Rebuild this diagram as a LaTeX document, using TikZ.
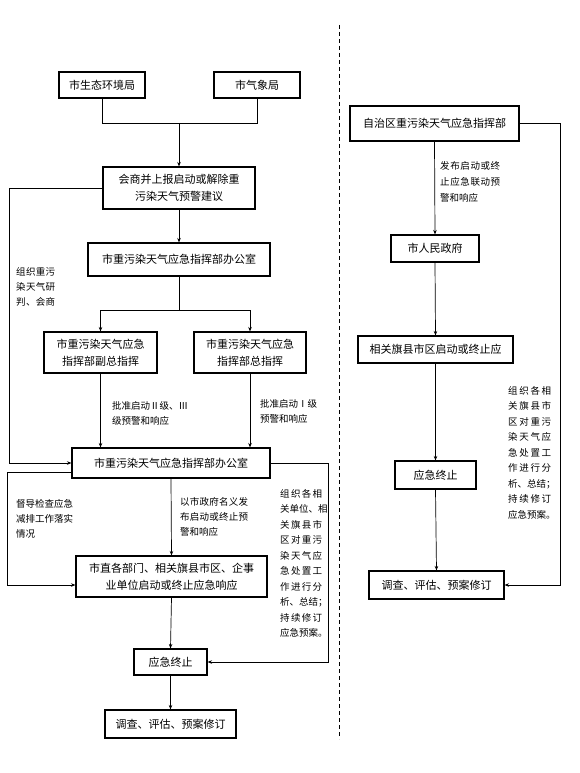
\documentclass[tikz,border=0pt]{standalone}
\usepackage{fontspec}
\setmainfont{Noto Sans CJK SC}
\usetikzlibrary{arrows.meta}

% spread the characters of one line over a fixed width
\def\sprfirst#1{#1\sprnext}
\def\sprnext#1{\ifx#1\relax\else\hfil#1\expandafter\sprnext\fi}
\newcommand{\spr}[2][42pt]{\makebox[#1][s]{\sprfirst#2\relax}}

\begin{document}
\begin{tikzpicture}[x=1pt, y=-1pt,
  box/.style={rectangle, draw, line width=1.1pt, inner sep=0pt, align=center,
    minimum width=#1, font=\fontsize{11}{17}\selectfont},
  lbl/.style={inner sep=0pt, align=left, anchor=north west,
    font=\fontsize{9.5}{#1}\selectfont},
  lbl/.default=15pt,
  arr/.style={-{Stealth[length=4.5pt, width=3.5pt]}, line width=0.7pt},
  ln/.style={line width=0.7pt}
]
\useasboundingbox (0,0) rectangle (580,773);

% left column
\node[box=86pt, minimum height=26pt] (eco) at (102,85) {市生态环境局};
\node[box=86pt, minimum height=26pt] (met) at (257,85) {市气象局};
\node[box=152pt, minimum height=42pt] (cons) at (179,188) {会商并上报启动或解除重\\污染天气预警建议};
\node[box=182pt, minimum height=33pt] (off1) at (179,259.5) {市重污染天气应急指挥部办公室};
\node[box=113pt, minimum height=41pt] (vice) at (100.5,352.5) {市重污染天气应急\\指挥部副总指挥};
\node[box=112pt, minimum height=41pt] (chief) at (250,352.5) {市重污染天气应急\\指挥部总指挥};
\node[box=198pt, minimum height=30pt] (off2) at (171,463) {市重污染天气应急指挥部办公室};
\node[box=191pt, minimum height=41pt] (dept) at (171.5,576.5) {市直各部门、相关旗县市区、企事\\业单位启动或终止应急响应};
\node[box=73pt, minimum height=26pt] (endA) at (170.5,662) {应急终止};
\node[box=131pt, minimum height=28pt] (revA) at (170.5,724) {调查、评估、预案修订};

% right column
\node[box=169pt, minimum height=35pt] (reg) at (434.5,123.5) {自治区重污染天气应急指挥部};
\node[box=88pt, minimum height=27pt] (gov) at (435,248.5) {市人民政府};
\node[box=155pt, minimum height=27pt] (cty) at (435.5,349.5) {相关旗县市区启动或终止应};
\node[box=81pt, minimum height=28pt] (endB) at (435.5,475) {应急终止};
\node[box=135pt, minimum height=28pt] (revB) at (436.5,585) {调查、评估、预案修订};

% labels
\node[lbl] (tStudy) at (16,267) {\spr[39pt]{组织重污}\\\spr[39pt]{染天气研}\\\spr[39pt]{判、会商}};
\node[lbl] (tLow) at (112,401) {批准启动Ⅱ级、Ⅲ\\级预警和响应};
\node[lbl] (tHigh) at (260,399) {批准启动Ⅰ级\\预警和响应};
\node[lbl] (tCheck) at (16,499) {\spr[57pt]{督导检查应急}\\\spr[57pt]{减排工作落实}\\情况};
\node[lbl] (tIssue) at (180,497) {\spr[68pt]{以市政府名义发}\\\spr[68pt]{布启动或终止预}\\警和响应};
\node[lbl=15.5pt] (tSumA) at (280,489) {\spr{组织各相}\\\spr{关单位、相}\\\spr{关旗县市}\\\spr{区对重污}\\\spr{染天气应}\\\spr{急处置工}\\\spr{作进行分}\\\spr{析、总结；}\\\spr{持续修订}\\\spr{应急预案。}};
\node[lbl=16pt] (tLink) at (440,161) {\spr[60pt]{发布启动或终}\\\spr[60pt]{止应急联动预}\\警和响应};
\node[lbl=15.5pt] (tSumB) at (508,386) {\spr[43pt]{组织各相}\\\spr[43pt]{关旗县市}\\\spr[43pt]{区对重污}\\\spr[43pt]{染天气应}\\\spr[43pt]{急处置工}\\\spr[43pt]{作进行分}\\\spr[43pt]{析、总结；}\\\spr[43pt]{持续修订}\\\spr[43pt]{应急预案。}};

% helper points
\coordinate (jn) at (179,123);
\coordinate (sp) at (179,310);
\coordinate (fbA) at (9,0);
\coordinate (fbB) at (7,0);
\coordinate (rlA) at (328,0);
\coordinate (rlB) at (560,0);

% connectors, left
\draw[ln] (eco.south) -- (eco.south |- jn) -- (met.south |- jn) -- (met.south);
\draw[arr] (jn) -- (cons.north);
\draw[arr] (cons.south) -- (off1.north);
\draw[ln] (off1.south) -- (sp);
\draw[ln] (vice.north |- sp) -- (chief.north |- sp);
\draw[arr] (vice.north |- sp) -- (vice.north);
\draw[arr] (chief.north |- sp) -- (chief.north);
\draw[arr] (vice.south) -- (vice.south |- off2.north);
\draw[arr] (chief.south) -- (chief.south |- off2.north);
\draw[arr] (cons.west) -- (cons.west -| fbA) -- (fbA |- off2.west) -- (off2.west);
\draw[arr] ([yshift=-9pt]off2.west) -- ([yshift=-9pt]off2.west -| fbB)
  -- ([yshift=-8.5pt]dept.west -| fbB) -- ([yshift=-8.5pt]dept.west);
\draw[arr] (off2.south) -- (dept.north);
\draw[arr] (off2.east) -- (off2.east -| rlA) -- (endA.east -| rlA) -- (endA.east);
\draw[arr] (dept.south) -- (endA.north);
\draw[arr] (endA.south) -- (revA.north);

% connectors, right
\draw[arr] (reg.south) -- (gov.north);
\draw[arr] (gov.south) -- (cty.north);
\draw[arr] (cty.south) -- (endB.north);
\draw[arr] (endB.south) -- (revB.north);
\draw[arr] (reg.east) -- (reg.east -| rlB) -- (revB.east -| rlB) -- (revB.east);

% divider
\draw[line width=1pt, dash pattern=on 4pt off 3pt] (339,25) -- (339,739);
\end{tikzpicture}
\end{document}
